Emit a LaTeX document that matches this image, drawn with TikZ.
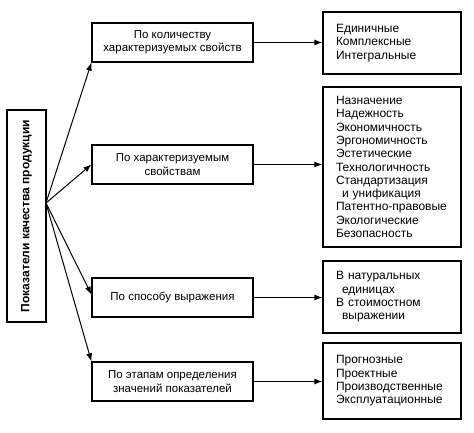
\documentclass[tikz,border=0pt]{standalone}
\usepackage{fontspec}
\setmainfont{Liberation Sans}
\usetikzlibrary{arrows.meta}

\begin{document}
\begin{tikzpicture}[x=1pt,y=-1pt,font=\fontsize{11.5}{13.3}\selectfont,
  box/.style={rectangle,draw,line width=1.2pt,align=center,inner sep=0pt},
  midbox/.style={box,minimum width=161pt,minimum height=39pt},
  listbox/.style={box,text width=112pt,align=left,inner xsep=13pt,minimum height=#1,
    font=\fontsize{12}{13.3}\selectfont},
  arr/.style={-{Latex[length=8pt,width=6pt]},line width=1pt}]
\useasboundingbox (0,0) rectangle (474,433);
\node[box,rotate=90,minimum width=212pt,minimum height=39pt,font=\fontsize{12}{13}\selectfont\bfseries] (root) at (26.5,216) {Показатели качества продукции};
\node[midbox] (m1) at (172.5,42.5) {По количеству\\характеризуемых свойств};
\node[midbox] (m2) at (172.5,164.5) {По характеризуемым\\свойствам};
\node[midbox] (m3) at (172.5,297.5) {По способу выражения};
\node[midbox] (m4) at (172.5,381.5) {По этапам определения\\значений показателей};
\node[listbox=62pt] (r1) at (392,43) {Единичные\\Комплексные\\Интегральные};
\node[listbox=160pt] (r2) at (392,167) {Назначение\\Надежность\\Экономичность\\Эргономичность\\Эстетические\\Технологичность\\Стандартизация\\\hspace*{0.5em}и унификация\\Патентно-правовые\\Экологические\\Безопасность};
\node[listbox=72pt] (r3) at (392,297) {В натуральных\\\hspace*{0.5em}единицах\\В стоимостном\\\hspace*{0.5em}выражении};
\node[listbox=76pt] (r4) at (392,381) {Прогнозные\\Проектные\\Производственные\\Эксплуатационные};
\coordinate (fork) at (46,203);
\draw[arr] (fork) -- (m1.south west);
\draw[arr] (fork) -- (m2.west);
\draw[arr] (fork) -- ([yshift=3pt]m3.west);
\draw[arr] (fork) -- (m4.north west);
\foreach \i in {1,...,4}
  \draw[arr] (m\i.east) -- (m\i.east -| r\i.west);
\end{tikzpicture}
\end{document}
